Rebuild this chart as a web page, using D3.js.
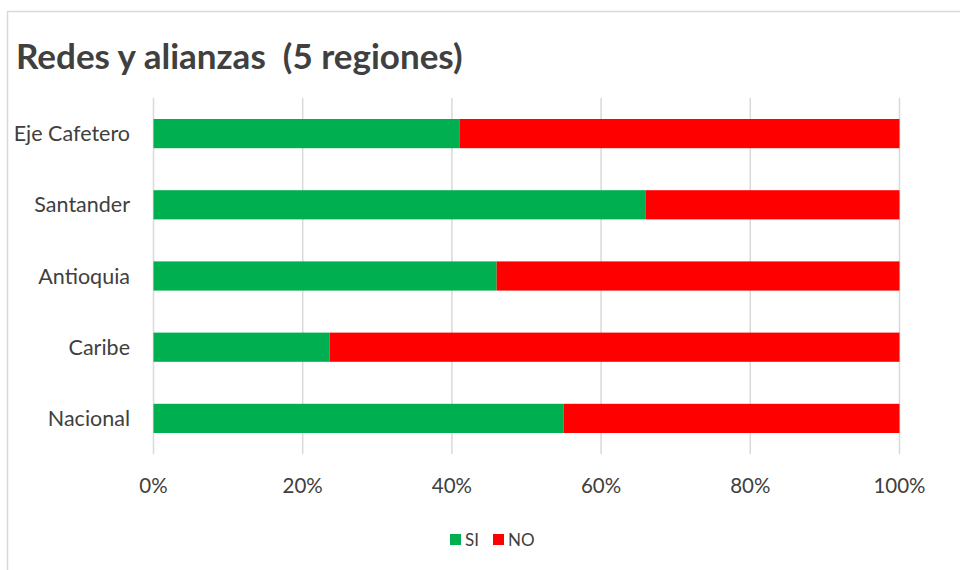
<!DOCTYPE html>
<html>
<head>
<meta charset="utf-8">
<script src="https://cdn.jsdelivr.net/npm/d3@7"></script>
<style>
  body { margin: 0; background: #fff; }
  text { font-family: Lato, "Open Sans", sans-serif; }
</style>
</head>
<body>
<svg id="chart" width="960" height="570"></svg>
<script>
const regions = ['Eje Cafetero', 'Santander', 'Antioquia', 'Caribe', 'Nacional'];
const siValues = [41, 66, 46, 23.6, 55];
const noValues = [59, 34, 54, 76.4, 45];
const seriesNames = ['SI', 'NO'];
const tickValues = [0, 20, 40, 60, 80, 100];

const colors = {SI: '#00b050', NO: '#ff0000'};

const svg = d3.select('#chart');

// chart frame (light gray like the spreadsheet border)
svg.append('rect')
  .attr('x', 7.5).attr('y', 11.5)
  .attr('width', 1000).attr('height', 600)
  .attr('fill', '#fff')
  .attr('stroke', '#d9d9d9')
  .attr('stroke-width', 1.5);

svg.append('text')
  .attr('x', 16).attr('y', 69)
  .attr('fill', '#404040')
  .attr('font-size', 35)
  .attr('font-weight', 'bold')
  .style('white-space', 'pre')
  .text('Redes y alianzas  (5 regiones)');

const x = d3.scaleLinear().domain([0, 100]).range([153.5, 899.5]);
const y = d3.scaleBand().domain(regions).range([98, 454]).paddingInner(0.59).paddingOuter(0.295);

// gridlines
svg.append('g')
  .selectAll('line')
  .data(tickValues)
  .join('line')
  .attr('x1', d => x(d)).attr('x2', d => x(d))
  .attr('y1', 98).attr('y2', 454)
  .attr('stroke', '#d9d9d9')
  .attr('stroke-width', 1.5);

const rows = regions.map((r, i) => ({region: r, SI: siValues[i], NO: noValues[i]}));
const stacked = d3.stack().keys(seriesNames)(rows);

svg.append('g')
  .selectAll('g')
  .data(stacked)
  .join('g')
  .attr('fill', d => colors[d.key])
  .selectAll('rect')
  .data(d => d)
  .join('rect')
  .attr('x', d => x(d[0]))
  .attr('width', d => x(d[1]) - x(d[0]))
  .attr('y', d => y(d.data.region))
  .attr('height', y.bandwidth());

// category labels
svg.append('g')
  .selectAll('text')
  .data(regions)
  .join('text')
  .attr('x', 130)
  .attr('y', d => y(d) + y.bandwidth() / 2)
  .attr('dy', '0.35em')
  .attr('text-anchor', 'end')
  .attr('fill', '#404040')
  .attr('font-size', 21.5)
  .text(d => d);

// value axis labels
svg.append('g')
  .selectAll('text')
  .data(tickValues)
  .join('text')
  .attr('x', d => x(d))
  .attr('y', 493)
  .attr('text-anchor', 'middle')
  .attr('fill', '#404040')
  .attr('font-size', 20.5)
  .text(d => d + '%');

// legend
const legend = svg.append('g').attr('transform', 'translate(450,534)');
const legendX = [0, 43];
seriesNames.forEach((s, i) => {
  legend.append('rect')
    .attr('x', legendX[i]).attr('y', 0)
    .attr('width', 11).attr('height', 11)
    .attr('fill', colors[s]);
  legend.append('text')
    .attr('x', legendX[i] + 15).attr('y', 11.5)
    .attr('fill', '#404040')
    .attr('font-size', 17)
    .text(s);
});
</script>
</body>
</html>
